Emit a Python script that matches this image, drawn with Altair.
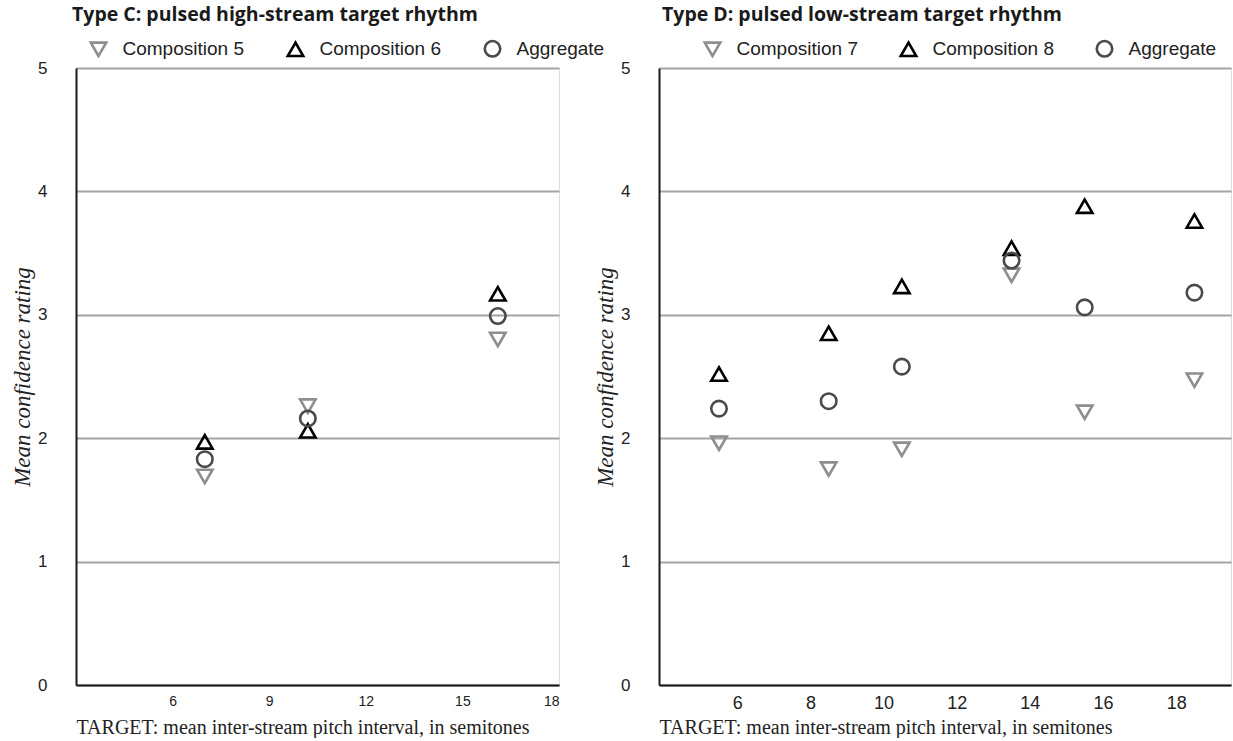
import altair as alt
import pandas as pd

# ---- data ----
y_ticks = [0, 1, 2, 3, 4, 5]

series_c = ["Composition 5", "Composition 6", "Aggregate"]
x_c = [7.0, 10.2, 16.1]
comp5 = [1.69, 2.26, 2.80]
comp6 = [1.97, 2.06, 3.17]
agg_c = [1.83, 2.16, 2.99]
x_ticks_c = [6, 9, 12, 15, 18]

series_d = ["Composition 7", "Composition 8", "Aggregate"]
x_d = [5.5, 8.5, 10.5, 13.5, 15.5, 18.5]
comp7 = [1.96, 1.75, 1.91, 3.32, 2.21, 2.47]
comp8 = [2.52, 2.85, 3.23, 3.54, 3.88, 3.76]
agg_d = [2.24, 2.30, 2.58, 3.44, 3.06, 3.18]
x_ticks_d = [6, 8, 10, 12, 14, 16, 18]

title_c = "Type C: pulsed high-stream target rhythm"
title_d = "Type D: pulsed low-stream target rhythm"
y_title = "Mean confidence rating"
x_title = "TARGET: mean inter-stream pitch interval, in semitones"


def make_df(xs, series, values):
    rows = []
    for name, vals in zip(series, values):
        for x, v in zip(xs, vals):
            rows.append({"x": x, "y": v, "series": name})
    return pd.DataFrame(rows)


df_c = make_df(x_c, series_c, [comp5, comp6, agg_c])
df_d = make_df(x_d, series_d, [comp7, comp8, agg_d])

SHAPES = ["triangle-down", "triangle-up", "circle"]
STROKES = ["#8e8e8e", "#000000", "#4a4a4a"]
SIZES = [240, 240, 130]


def panel(df, series, xdom, xticks, title, width, legend_x, title_dx, xlabel_size,
          col_pad, xtitle_pad):
    legend = alt.Legend(
        title=None, orient="none", legendX=legend_x, legendY=-29,
        direction="horizontal", columns=3, columnPadding=col_pad,
        labelFont="Liberation Sans", labelFontSize=19, labelColor="#222222",
        labelOffset=14.5, symbolStrokeWidth=2.6, padding=0,
    )
    return alt.Chart(df).mark_point(filled=False, strokeWidth=2.6, opacity=1).encode(
        x=alt.X("x:Q", scale=alt.Scale(domain=xdom, nice=False, zero=False),
                axis=alt.Axis(values=xticks, title=x_title, grid=False, ticks=False,
                              labelFont="Liberation Sans", labelFontSize=xlabel_size,
                              labelColor="#222222", labelPadding=9,
                              domainColor="#1a1a1a", domainWidth=2,
                              titleFont="Liberation Serif", titleFontWeight="normal",
                              titleFontSize=20, titleColor="#222222",
                              titleAnchor="start", titleAlign="left",
                              titlePadding=xtitle_pad)),
        y=alt.Y("y:Q", scale=alt.Scale(domain=[0, 5], nice=False),
                axis=alt.Axis(values=y_ticks, format="d", title=y_title, ticks=False,
                              grid=True, gridColor="#a3a3a3", gridWidth=2,
                              domainColor="#1a1a1a", domainWidth=2,
                              labelFont="Liberation Sans", labelFontSize=17,
                              labelColor="#222222", labelPadding=29,
                              titleFont="Liberation Serif", titleFontStyle="italic",
                              titleFontWeight="normal", titleFontSize=23,
                              titleColor="#222222", titlePadding=3)),
        shape=alt.Shape("series:N", scale=alt.Scale(domain=series, range=SHAPES), legend=legend),
        stroke=alt.Stroke("series:N", scale=alt.Scale(domain=series, range=STROKES), legend=legend),
        size=alt.Size("series:N", scale=alt.Scale(domain=series, range=SIZES), legend=legend),
    ).properties(
        width=width, height=617,
        title=alt.TitleParams(title, anchor="start", frame="group", font="Open Sans",
                              fontSize=19.5, fontWeight="bold", color="#1a1a1a",
                              dx=title_dx, offset=14),
    )


left = panel(df_c, series_c, [3, 18], x_ticks_c, title_c, 483, 13, -4, 14, 38, 9)
right = panel(df_d, series_d, [3.86, 19.5], x_ticks_d, title_d, 572, 44, 3, 18, 37, 5)

chart = alt.hconcat(left, right, spacing=100, bounds="flush").resolve_scale(
    x="independent", y="independent", shape="independent",
    stroke="independent", size="independent",
).resolve_legend(shape="independent", stroke="independent", size="independent").properties(
    padding={"left": 11, "top": 4, "right": 0, "bottom": 0},
).configure_view(stroke=None).configure(background="white")

chart.save("out.html", embed_options={"renderer": "svg", "actions": False})
